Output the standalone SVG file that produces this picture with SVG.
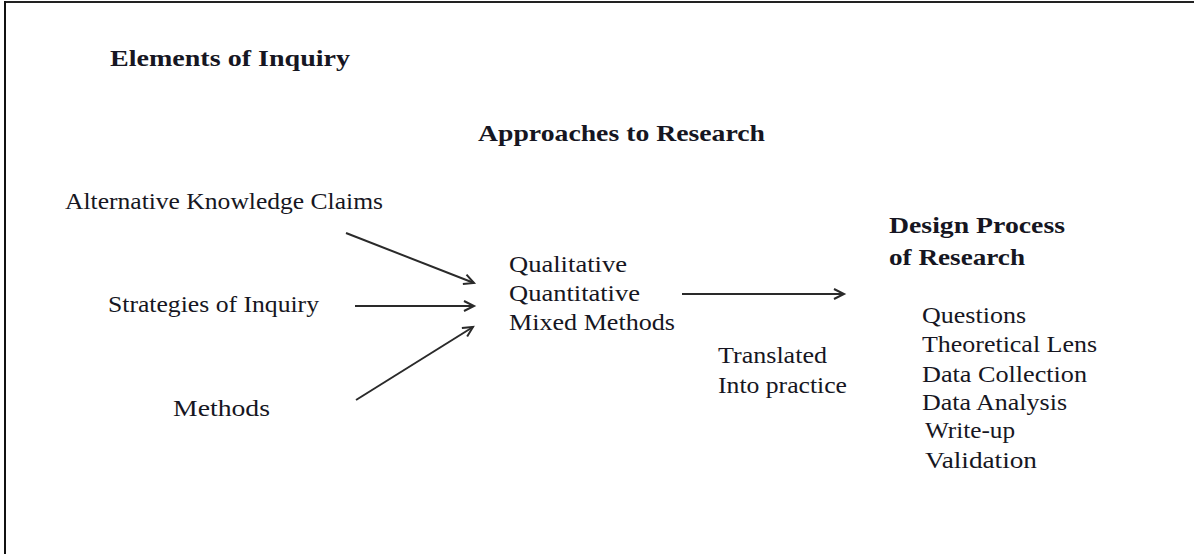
<svg xmlns="http://www.w3.org/2000/svg" width="1194" height="554" viewBox="0 0 1194 554">
<defs>
<style>
.t{font-family:"Liberation Serif","Times New Roman",serif;font-size:24px;fill:#161622}
.b{font-family:"Liberation Serif","Times New Roman",serif;font-size:23px;font-weight:bold;fill:#161622}
.c{stroke:#2a2a2a;stroke-width:2;fill:none}
</style>
<marker id="ah" markerWidth="14" markerHeight="14" refX="11" refY="6" orient="auto" markerUnits="userSpaceOnUse">
<path d="M1,1 L11,6 L1,11" fill="none" stroke="#2a2a2a" stroke-width="2"/>
</marker>
</defs>
<rect width="1194" height="554" fill="#fff"/>
<g id="frame">
<line x1="4" y1="2" x2="1194" y2="2" stroke="#222" stroke-width="2"/>
<line x1="5" y1="1" x2="5" y2="554" stroke="#111" stroke-width="2"/>
</g>
<g id="title"><text class="b" x="110" y="66" textLength="240" lengthAdjust="spacingAndGlyphs">Elements  of Inquiry</text></g>
<g id="approaches"><text class="b" x="478" y="141" textLength="287" lengthAdjust="spacingAndGlyphs">Approaches to Research</text></g>
<g id="claims"><text class="t" x="65" y="209" textLength="318" lengthAdjust="spacingAndGlyphs">Alternative Knowledge Claims</text></g>
<g id="strategies"><text class="t" x="108" y="312" textLength="211" lengthAdjust="spacingAndGlyphs">Strategies of Inquiry</text></g>
<g id="methods"><text class="t" x="173" y="416" textLength="97" lengthAdjust="spacingAndGlyphs">Methods</text></g>
<g id="approach-types">
<text class="t" x="509" y="272" textLength="118" lengthAdjust="spacingAndGlyphs">Qualitative</text>
<text class="t" x="509" y="301" textLength="131" lengthAdjust="spacingAndGlyphs">Quantitative</text>
<text class="t" x="509" y="330" textLength="166" lengthAdjust="spacingAndGlyphs">Mixed Methods</text>
</g>
<g id="translated">
<text class="t" x="718" y="363" textLength="109" lengthAdjust="spacingAndGlyphs">Translated</text>
<text class="t" x="718" y="393" textLength="129" lengthAdjust="spacingAndGlyphs">Into practice</text>
</g>
<g id="design">
<text class="b" x="889" y="233" textLength="176" lengthAdjust="spacingAndGlyphs">Design Process</text>
<text class="b" x="889" y="265" textLength="136" lengthAdjust="spacingAndGlyphs">of Research</text>
<text class="t" x="922" y="323" textLength="104" lengthAdjust="spacingAndGlyphs">Questions</text>
<text class="t" x="922" y="352" textLength="175" lengthAdjust="spacingAndGlyphs">Theoretical Lens</text>
<text class="t" x="922" y="382" textLength="165" lengthAdjust="spacingAndGlyphs">Data Collection</text>
<text class="t" x="922" y="410" textLength="145" lengthAdjust="spacingAndGlyphs">Data Analysis</text>
<text class="t" x="925" y="438" textLength="90" lengthAdjust="spacingAndGlyphs">Write-up</text>
<text class="t" x="925" y="468" textLength="112" lengthAdjust="spacingAndGlyphs">Validation</text>
</g>
<g id="connectors">
<line class="c" x1="346" y1="233" x2="474" y2="283" marker-end="url(#ah)"/>
<line class="c" x1="355" y1="306" x2="474" y2="306" marker-end="url(#ah)"/>
<line class="c" x1="356" y1="400" x2="473" y2="327" marker-end="url(#ah)"/>
<line class="c" x1="682" y1="294" x2="844" y2="294" marker-end="url(#ah)"/>
</g>
</svg>
